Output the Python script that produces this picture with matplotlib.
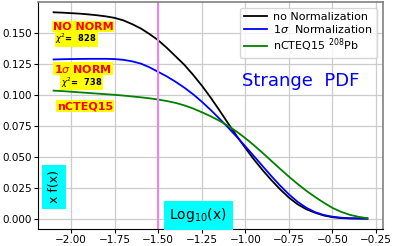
import matplotlib
matplotlib.use("Agg")
import matplotlib.pyplot as plt

log_x = [-2.10, -2.05, -2.00, -1.95, -1.90, -1.85, -1.80, -1.75, -1.70,
         -1.65, -1.60, -1.55, -1.50, -1.45, -1.40, -1.35, -1.30, -1.25,
         -1.20, -1.15, -1.10, -1.05, -1.00, -0.95, -0.90, -0.85, -0.80,
         -0.75, -0.70, -0.65, -0.60, -0.55, -0.50, -0.45, -0.40, -0.35, -0.30]
no_norm = [0.1665, 0.1662, 0.1658, 0.1654, 0.1648, 0.1641, 0.1632, 0.1620,
           0.1600, 0.1570, 0.1535, 0.1490, 0.1440, 0.1378, 0.1310, 0.1242,
           0.1162, 0.1075, 0.0980, 0.0878, 0.0773, 0.0670, 0.0572, 0.0478,
           0.0392, 0.0312, 0.0238, 0.0172, 0.0118, 0.0078, 0.0050, 0.0028,
           0.0014, 0.0007, 0.0004, 0.0003, 0.0002]
sigma_norm = [0.1285, 0.1287, 0.1288, 0.1289, 0.1290, 0.1290, 0.1290, 0.1288,
              0.1282, 0.1270, 0.1252, 0.1222, 0.1185, 0.1148, 0.1105, 0.1058,
              0.1005, 0.0945, 0.0880, 0.0810, 0.0738, 0.0663, 0.0585, 0.0505,
              0.0424, 0.0344, 0.0268, 0.0198, 0.0138, 0.0090, 0.0055, 0.0032,
              0.0018, 0.0010, 0.0006, 0.0005, 0.0004]
ncteq = [0.1034, 0.1030, 0.1025, 0.1020, 0.1015, 0.1010, 0.1005, 0.1000,
         0.0994, 0.0987, 0.0980, 0.0972, 0.0962, 0.0950, 0.0935, 0.0915,
         0.0890, 0.0860, 0.0828, 0.0792, 0.0751, 0.0704, 0.0651, 0.0593,
         0.0531, 0.0467, 0.0403, 0.0341, 0.0282, 0.0227, 0.0177, 0.0131,
         0.0089, 0.0057, 0.0033, 0.0017, 0.0006]
labels = ["no Normalization", r"1$\sigma$  Normalization", r"nCTEQ15 $^{208}$Pb"]
colors = ["black", "blue", "green"]
vline_x = -1.5

fig = plt.figure(figsize=(3.99, 2.46), dpi=100)
ax = fig.add_axes([0.095, 0.069, 0.865, 0.923])

for ys, lab, c in zip([no_norm, sigma_norm, ncteq], labels, colors):
    ax.plot(log_x, ys, color=c, lw=1.3, label=lab)
ax.axvline(vline_x, color="violet", lw=1.5)

ax.grid(True, color="#cccccc", lw=0.9)
ax.set_axisbelow(True)
ax.tick_params(labelsize=7.5, length=3, pad=1.5)
ax.set_xticks([-2.0, -1.75, -1.5, -1.25, -1.0, -0.75, -0.5, -0.25])
for s in ["top", "right"]:
    ax.spines[s].set_color("0.5")
    ax.spines[s].set_linewidth(1.2)

leg = ax.legend(loc="upper right", fontsize=8, handlelength=2.0,
                borderaxespad=0.5, labelspacing=0.1, handletextpad=0.6)

yel = dict(facecolor="yellow", edgecolor="none", pad=0.5)
ax.text(-2.103, 0.1548, "NO NORM", color="red", fontweight="bold", fontsize=8,
        va="center", ha="left", bbox=yel)
ax.text(-2.09, 0.145, r"$\chi^2$=  828", color="black", fontweight="bold",
        fontsize=6, va="center", ha="left", bbox=yel)
ax.text(-2.098, 0.121, r"1$\sigma$ NORM", color="red", fontweight="bold",
        fontsize=8, va="center", ha="left", bbox=yel)
ax.text(-2.057, 0.110, r"$\chi^2$=  738", color="black", fontweight="bold",
        fontsize=6, va="center", ha="left", bbox=yel)
ax.text(-2.08, 0.091, "nCTEQ15", color="red", fontweight="bold", fontsize=8,
        va="center", ha="left", bbox=yel)

cy = dict(facecolor="cyan", edgecolor="none", pad=4)
ax.text(-2.097, 0.0258, "x f(x)", rotation=90, fontsize=9, va="center",
        ha="center", bbox=cy)
ax.text(-1.27, 0.003, r"Log$_{10}$(x)", fontsize=10, va="center",
        ha="center", bbox=cy)
ax.text(-0.68, 0.111, "Strange  PDF", color="blue", fontsize=13,
        va="center", ha="center")

fig.savefig("out.png", dpi=100)
